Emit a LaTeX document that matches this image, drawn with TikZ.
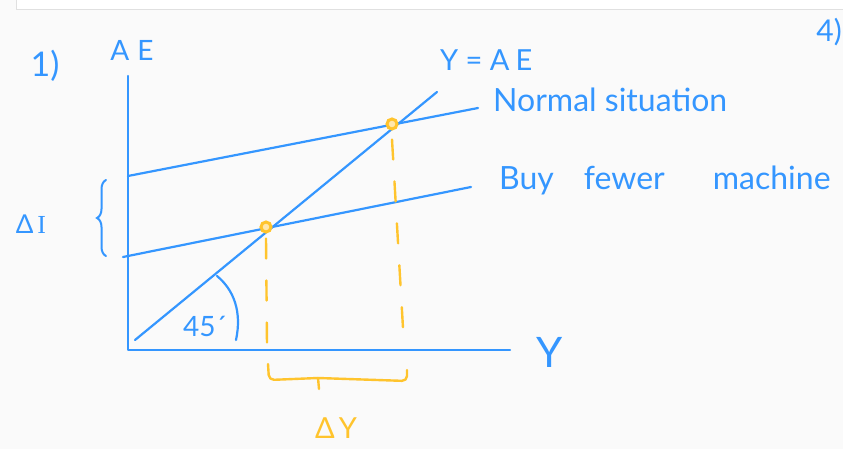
\documentclass[tikz,border=0pt]{standalone}
\usepackage{fontspec}
\setmainfont{Lato}
\newfontfamily\serifI{Liberation Serif}
\usetikzlibrary{decorations.pathreplacing}
\definecolor{pen}{RGB}{52,150,255}
\definecolor{hl}{RGB}{255,196,45}
\definecolor{bg}{RGB}{250,250,250}
\begin{document}
\begin{tikzpicture}[x=1pt,y=-1pt,
  ink/.style={draw=pen,line width=2.2pt,line cap=round,line join=round},
  hlink/.style={draw=hl,line width=2.4pt,line cap=round,line join=round},
  dashy/.style={hlink,dash pattern=on 20pt off 22pt},
  lbl/.style={text=pen,inner sep=0pt,font=\fontsize{26}{28}\selectfont},
  biglbl/.style={lbl,font=\fontsize{32}{34}\selectfont},
  hllbl/.style={text=hl,inner sep=0pt,font=\fontsize{29}{31}\selectfont},
  dot/.style={circle,draw=hl,line width=3pt,minimum size=10pt,inner sep=0pt,fill=hl!40}]
\fill[bg] (0,0) rectangle (843,449);
\useasboundingbox (0,0) rectangle (843,449);
\fill[white] (16,0) rectangle (843,10);
\draw[black!12,line width=1pt] (16,0) -- (16,10) -- (843,10);

% axes
\coordinate (ytop) at (128,76);
\coordinate (O) at (128,350);
\coordinate (xend) at (510,350);
\draw[ink] (ytop) -- (O) -- (xend);

% 45 degree line
\coordinate (d0) at (135,340);
\coordinate (d1) at (437,92);
\draw[ink] (d0) -- (d1);

% AE lines
\coordinate (n0) at (128,176);
\coordinate (n1) at (478,108);
\draw[ink] (n0) -- (n1);
\coordinate (b0) at (123,257);
\coordinate (b1) at (471,187);
\draw[ink] (b0) -- (b1);

% intersections
\node[dot] (p1) at (266,227) {};
\node[dot] (p2) at (392,124) {};

% dashed drops
\coordinate (q1) at (267,345);
\coordinate (q2) at (403,328);
\draw[dashy] (p1.south) ++(0,5) coordinate (p1s) (p1s) -- (q1);
\draw[dashy] (p2.south) ++(0,9) coordinate (p2s) (p2s) -- (q2);

% 45 arc
\coordinate (a0) at (217,276);
\coordinate (a1) at (236,340);
\draw[ink] (a0) .. controls (234,290) and (242,312) .. (a1);
\node[lbl,anchor=center,font=\fontsize{28}{30}\selectfont] (deg) at (205,326) {45\textasciiacute};

% Delta I brace
\draw[draw=pen,line width=2pt,line cap=round,decorate,decoration={brace,amplitude=9pt}] (106,256) -- (106,180);
\node[lbl,anchor=center] (dI) at (31,224) {Δ\hspace{4pt}{\serifI I}};

% Delta Y brace
\coordinate (r0) at (268,364);
\coordinate (r1) at (407,370);
\draw[hlink,rounded corners=5pt] (r0) -- (269,380) -- (318,378) -- (407,381) -- (r1);
\coordinate (rt) at (318,378);
\draw[hlink] (rt) -- (319,389);
\node[hllbl] (dY) at (336,428) {Δ\hspace{4pt}Y};

% labels
\node[lbl,font=\fontsize{34}{36}\selectfont] (one) at (45,66) {1)};
\node[lbl,font=\fontsize{28}{30}\selectfont] (AE) at (132,50) {A\kern8pt E};
\node[lbl] (Y) at (550,352) {\fontsize{42}{44}\selectfont Y};
\node[lbl,anchor=west,font=\fontsize{29}{31}\selectfont] (yae) at (440,60) {Y = A\kern6pt E};
\node[biglbl,anchor=west] (ns) at (493,100) {Normal situation};
\node[biglbl,anchor=west] (bf) at (499,180) {Buy\hspace{30pt}fewer\hspace{48pt}machine};
\node[lbl,anchor=east,font=\fontsize{30}{32}\selectfont] (four) at (842,32) {4)};
\end{tikzpicture}
\end{document}
